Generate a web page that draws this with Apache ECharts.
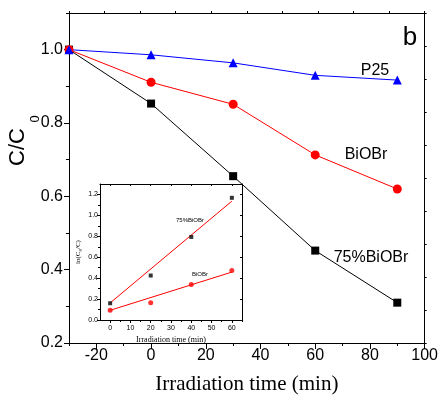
<!DOCTYPE html>
<html>
<head>
    <meta charset="utf-8">
    <title>C/C0 vs irradiation time</title>
    <script src="https://cdn.jsdelivr.net/npm/echarts@6/dist/echarts.min.js"></script>
    <style>
        html, body { margin: 0; padding: 0; background: #fff; }
        #main { width: 441px; height: 400px; }
    </style>
</head>
<body>
<div id="main"></div>
<script type="text/javascript">
    // main plot data
    var time = [-30, 0, 30, 60, 90];
    var p25 = [1.0, 0.986, 0.964, 0.930, 0.917];
    var biobr = [1.0, 0.911, 0.851, 0.713, 0.620];
    var bi75 = [1.0, 0.853, 0.655, 0.452, 0.310];
    var xTicks = [-20, 0, 20, 40, 60, 80, 100];
    var xMinor = [-30, -10, 10, 30, 50, 70, 90];
    var yTicks = [0.2, 0.4, 0.6, 0.8, 1.0];
    var yMinor = [0.3, 0.5, 0.7, 0.9, 1.1];

    // inset data: ln(C0/C)
    var insetTime = [0, 20, 40, 60];
    var ln75 = [0.160, 0.425, 0.794, 1.168];
    var lnBi = [0.093, 0.166, 0.339, 0.473];
    var fitTime = [0, 60];
    var fit75 = [0.163, 1.136];
    var fitBi = [0.093, 0.458];
    var insetXTicks = [0, 10, 20, 30, 40, 50, 60];
    var insetXMinor = [5, 15, 25, 35, 45, 55, 65];
    var insetYTicks = [0, 0.2, 0.4, 0.6, 0.8, 1.0, 1.2];
    var insetYMinor = [0.1, 0.3, 0.5, 0.7, 0.9, 1.1];

    function pairs(xs, ys) {
        return xs.map(function (x, i) { return [x, ys[i]]; });
    }

    var sans = '"Liberation Sans", Arial, sans-serif';
    var serif = '"Liberation Serif", "Times New Roman", serif';
    var black = { color: '#000', width: 1 };

    var myChart = echarts.init(document.getElementById('main'));

    var option = {
        animation: false,
        backgroundColor: '#fff',
        grid: [
            { left: 69, top: 13, width: 358, height: 332 },
            { left: 100, top: 184, width: 142, height: 136, show: true, backgroundColor: '#fff', borderWidth: 0, z: 5 }
        ],
        xAxis: [
            {
                gridIndex: 0, type: 'value', position: 'bottom', min: -30, max: 100,
                axisLine: { onZero: false, lineStyle: black },
                axisTick: { customValues: xTicks, length: 6, lineStyle: black },
                axisLabel: { customValues: xTicks, fontSize: 16, fontFamily: sans, color: '#000', margin: 5 },
                splitLine: { show: false },
                name: 'Irradiation time (min)', nameLocation: 'middle', nameGap: 31,
                nameTextStyle: { fontSize: 21, fontFamily: serif, color: '#000' }
            },
            {
                gridIndex: 0, type: 'value', position: 'bottom', min: -30, max: 100,
                axisLine: { show: false, onZero: false },
                axisTick: { customValues: xMinor, length: 3, lineStyle: black },
                axisLabel: { show: false }, splitLine: { show: false }
            },
            {
                gridIndex: 0, type: 'value', position: 'top', min: 0, max: 10, interval: 1,
                axisLine: { onZero: false, lineStyle: black },
                axisTick: { length: 2, lineStyle: black },
                axisLabel: { show: false }, splitLine: { show: false }
            },
            {
                gridIndex: 1, type: 'value', position: 'bottom', min: -5, max: 65, z: 6,
                axisLine: { onZero: false, lineStyle: black },
                axisTick: { customValues: insetXTicks, length: 3, lineStyle: black },
                axisLabel: { customValues: insetXTicks, fontSize: 7, fontFamily: sans, color: '#000', margin: 5 },
                splitLine: { show: false },
                name: 'Irradiation time (min)', nameLocation: 'middle', nameGap: 16,
                nameTextStyle: { fontSize: 8, fontFamily: serif, color: '#000' }
            },
            {
                gridIndex: 1, type: 'value', position: 'bottom', min: -5, max: 65, z: 6,
                axisLine: { show: false, onZero: false },
                axisTick: { customValues: insetXMinor, length: 2, lineStyle: black },
                axisLabel: { show: false }, splitLine: { show: false }
            },
            {
                gridIndex: 1, type: 'value', position: 'top', min: -5, max: 65, z: 6,
                axisLine: { onZero: false, lineStyle: black },
                axisTick: { customValues: insetXTicks, inside: true, length: 2, lineStyle: black },
                axisLabel: { show: false }, splitLine: { show: false }
            }
        ],
        yAxis: [
            {
                gridIndex: 0, type: 'value', position: 'left', min: 0.2, max: 1.1,
                axisLine: { show: true, onZero: false, lineStyle: black },
                axisTick: { show: true, customValues: yTicks, length: 5, lineStyle: black },
                axisLabel: {
                    customValues: yTicks, fontSize: 16, fontFamily: sans, color: '#000', margin: 6,
                    formatter: function (v) { return v.toFixed(1); }
                },
                splitLine: { show: false }
            },
            {
                gridIndex: 0, type: 'value', position: 'left', min: 0.2, max: 1.1,
                axisLine: { show: false, onZero: false },
                axisTick: { show: true, customValues: yMinor, length: 3, lineStyle: black },
                axisLabel: { show: false }, splitLine: { show: false }
            },
            {
                gridIndex: 0, type: 'value', position: 'right', min: 0, max: 10, interval: 1,
                axisLine: { show: true, onZero: false, lineStyle: black },
                axisTick: { show: true, length: 2, lineStyle: black },
                axisLabel: { show: false }, splitLine: { show: false }
            },
            {
                gridIndex: 1, type: 'value', position: 'left', min: 0, max: 1.3, z: 6,
                axisLine: { show: true, onZero: false, lineStyle: black },
                axisTick: { show: true, customValues: insetYTicks, length: 3, lineStyle: black },
                axisLabel: {
                    customValues: insetYTicks, fontSize: 7, fontFamily: sans, color: '#000', margin: 2,
                    formatter: function (v) { return v.toFixed(1); }
                },
                splitLine: { show: false },
                name: '{a|ln(C}{b|0}{a|/C)}', nameLocation: 'middle', nameGap: 17,
                nameTextStyle: {
                    color: '#000',
                    rich: {
                        a: { fontSize: 7, fontFamily: serif, color: '#000' },
                        b: { fontSize: 5, fontFamily: serif, color: '#000', padding: [4, 0, 0, 0] }
                    }
                }
            },
            {
                gridIndex: 1, type: 'value', position: 'left', min: 0, max: 1.3, z: 6,
                axisLine: { show: false, onZero: false },
                axisTick: { show: true, customValues: insetYMinor, length: 2, lineStyle: black },
                axisLabel: { show: false }, splitLine: { show: false }
            },
            {
                gridIndex: 1, type: 'value', position: 'right', min: 0, max: 1.3, z: 6,
                axisLine: { show: true, onZero: false, lineStyle: black },
                axisTick: { show: true, customValues: insetYTicks, inside: true, length: 2, lineStyle: black },
                axisLabel: { show: false }, splitLine: { show: false }
            }
        ],
        series: [
            {
                name: '75%BiOBr', type: 'line', xAxisIndex: 0, yAxisIndex: 0, z: 2,
                data: pairs(time, bi75), symbol: 'rect', symbolSize: 8,
                lineStyle: { color: '#000', width: 1 }, itemStyle: { color: '#000' }
            },
            {
                name: 'BiOBr', type: 'line', xAxisIndex: 0, yAxisIndex: 0, z: 2,
                data: pairs(time, biobr), symbol: 'circle', symbolSize: 9,
                lineStyle: { color: '#ff0000', width: 1 }, itemStyle: { color: '#ff0000' }
            },
            {
                name: 'P25', type: 'line', xAxisIndex: 0, yAxisIndex: 0, z: 2,
                data: pairs(time, p25), symbol: 'triangle', symbolSize: 9,
                lineStyle: { color: '#0000ff', width: 1 }, itemStyle: { color: '#0000ff' }
            },
            {
                name: 'fit75', type: 'line', xAxisIndex: 3, yAxisIndex: 3, z: 7,
                data: pairs(fitTime, fit75), symbol: 'none',
                lineStyle: { color: '#ff0000', width: 1 }
            },
            {
                name: 'fitBi', type: 'line', xAxisIndex: 3, yAxisIndex: 3, z: 7,
                data: pairs(fitTime, fitBi), symbol: 'none',
                lineStyle: { color: '#ff0000', width: 1 }
            },
            {
                name: 'ln75', type: 'scatter', xAxisIndex: 3, yAxisIndex: 3, z: 8,
                data: pairs(insetTime, ln75), symbol: 'rect', symbolSize: 4,
                itemStyle: { color: '#000' }
            },
            {
                name: 'lnBi', type: 'scatter', xAxisIndex: 3, yAxisIndex: 3, z: 8,
                data: pairs(insetTime, lnBi), symbol: 'circle', symbolSize: 5,
                itemStyle: { color: '#ff0000' }
            }
        ],
        graphic: [
            { type: 'text', x: 18, y: 147, rotation: Math.PI / 2, z: 10,
              style: { text: 'C/C', font: '22px ' + sans, fill: '#000', align: 'center', verticalAlign: 'middle' } },
            { type: 'text', x: 35, y: 119, rotation: Math.PI / 2, z: 10,
              style: { text: '0', font: '13px ' + sans, fill: '#000', align: 'center', verticalAlign: 'middle' } },
            { type: 'text', x: 410, y: 38, z: 10,
              style: { text: 'b', font: '26px ' + sans, fill: '#000', align: 'center', verticalAlign: 'middle' } },
            { type: 'text', x: 375, y: 71, z: 10,
              style: { text: 'P25', font: '16px ' + sans, fill: '#000', align: 'center', verticalAlign: 'middle' } },
            { type: 'text', x: 366, y: 155, z: 10,
              style: { text: 'BiOBr', font: '16px ' + sans, fill: '#000', align: 'center', verticalAlign: 'middle' } },
            { type: 'text', x: 371, y: 258, z: 10,
              style: { text: '75%BiOBr', font: '16px ' + sans, fill: '#000', align: 'center', verticalAlign: 'middle' } },
            { type: 'text', x: 190, y: 220, z: 10,
              style: { text: '75%BiOBr', font: '6px ' + sans, fill: '#000', align: 'center', verticalAlign: 'middle' } },
            { type: 'text', x: 200, y: 274, z: 10,
              style: { text: 'BiOBr', font: '6px ' + sans, fill: '#000', align: 'center', verticalAlign: 'middle' } }
        ]
    };

    myChart.setOption(option);
</script>
</body>
</html>
